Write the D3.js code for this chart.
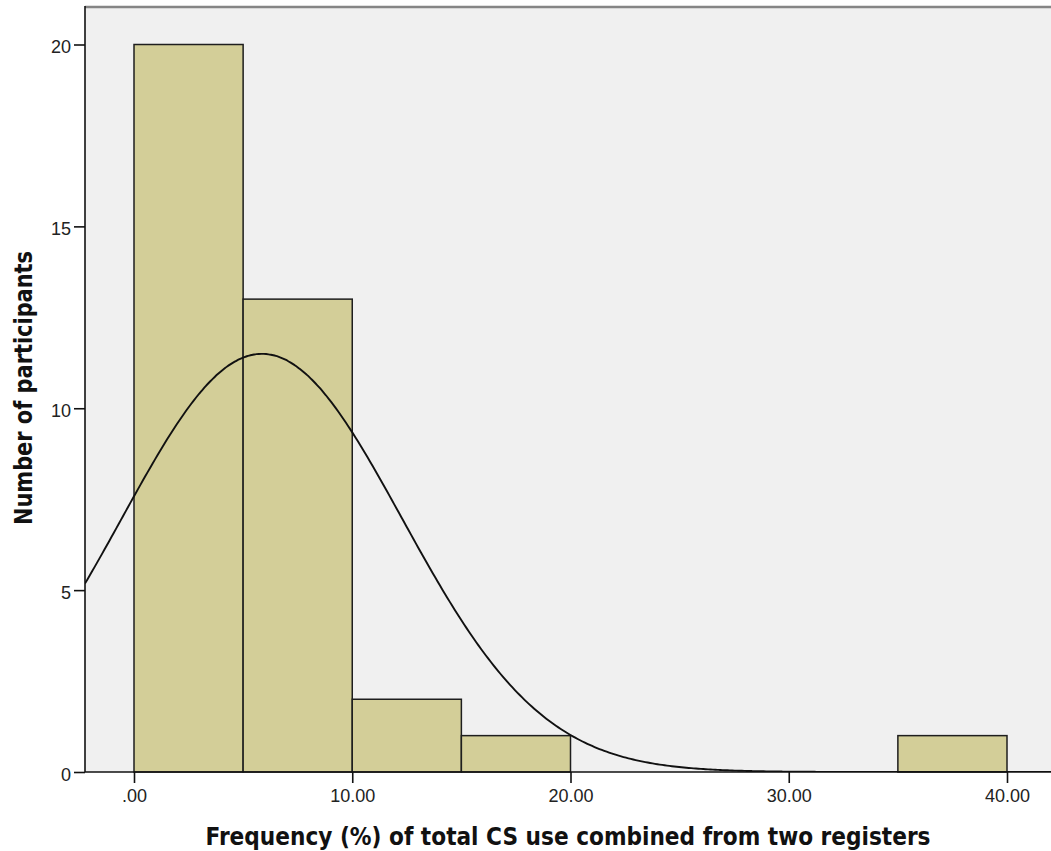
<!DOCTYPE html>
<html>
<head>
<meta charset="utf-8">
<script src="https://cdn.jsdelivr.net/npm/d3@7/dist/d3.min.js"></script>
<style>
  html, body { margin: 0; padding: 0; background: #ffffff; }
  svg { display: block; }
</style>
</head>
<body>
<svg id="chart" width="1051" height="851"></svg>
<script>
// Histogram bins (lower edge, width 5) and participant counts
const binStarts = [0, 5, 10, 15, 20, 25, 30, 35];
const binWidth = 5;
const counts = [20, 13, 2, 1, 0, 0, 0, 1];

// Fitted normal curve parameters
const curveMean = 5.86;
const curveSD = 6.42;
const totalN = 37;

// Axis ticks
const xTicks = [0, 10, 20, 30, 40];
const xTickLabels = [".00", "10.00", "20.00", "30.00", "40.00"];
const yTicks = [0, 5, 10, 15, 20];

const xTitle = "Frequency (%) of total CS use combined from two registers";
const yTitle = "Number of participants";

const svg = d3.select("#chart");
const W = 1051, H = 851;
const plot = { left: 85, right: 1051, top: 7, bottom: 772 };

const x = d3.scaleLinear().domain([0, 40]).range([134, 1007]);
const y = d3.scaleLinear().domain([0, 20]).range([772, 44.5]);

// plot background
svg.append("rect")
  .attr("x", plot.left).attr("y", plot.top)
  .attr("width", plot.right - plot.left).attr("height", plot.bottom - plot.top)
  .attr("fill", "#f0f0f0");

// top frame line
svg.append("line")
  .attr("x1", plot.left).attr("x2", plot.right)
  .attr("y1", plot.top).attr("y2", plot.top)
  .attr("stroke", "#858585").attr("stroke-width", 2.4);

const clip = svg.append("clipPath").attr("id", "plotClip")
  .append("rect")
  .attr("x", plot.left).attr("y", plot.top)
  .attr("width", plot.right - plot.left).attr("height", plot.bottom - plot.top);

// bars
const bins = binStarts.map((s, i) => ({ x0: s, x1: s + binWidth, n: counts[i] }))
  .filter(d => d.n > 0);

svg.append("g").selectAll("rect")
  .data(bins)
  .join("rect")
  .attr("x", d => x(d.x0))
  .attr("y", d => y(d.n))
  .attr("width", d => x(d.x1) - x(d.x0))
  .attr("height", d => y(0) - y(d.n))
  .attr("fill", "#d3ce98")
  .attr("stroke", "#1e1e1e")
  .attr("stroke-width", 1.5);

// normal curve scaled to counts
const scaleFactor = totalN * binWidth / (curveSD * Math.sqrt(2 * Math.PI));
const lo = x.invert(plot.left), hi = x.invert(plot.right);
const curvePts = d3.range(0, 401).map(i => {
  const v = lo + (hi - lo) * i / 400;
  const z = (v - curveMean) / curveSD;
  return [v, scaleFactor * Math.exp(-0.5 * z * z)];
});
svg.append("path")
  .datum(curvePts)
  .attr("clip-path", "url(#plotClip)")
  .attr("fill", "none")
  .attr("stroke", "#111")
  .attr("stroke-width", 1.9)
  .attr("d", d3.line().x(d => x(d[0])).y(d => y(d[1])).curve(d3.curveBasis));

// x axis
const xAxis = d3.axisBottom(x)
  .tickValues(xTicks)
  .tickFormat((d, i) => xTickLabels[i])
  .tickSize(11).tickSizeOuter(0).tickPadding(6);
const gx = svg.append("g").attr("transform", `translate(0,${plot.bottom})`).call(xAxis);
gx.select(".domain").remove();
gx.append("line")
  .attr("x1", plot.left).attr("x2", plot.right)
  .attr("y1", 0).attr("y2", 0)
  .attr("stroke", "#111").attr("stroke-width", 1.5);
gx.selectAll(".tick line").attr("stroke", "#111").attr("stroke-width", 1.6);
gx.selectAll(".tick text")
  .attr("fill", "#222")
  .style("font-family", "'Liberation Sans', Arial, sans-serif")
  .style("font-size", "18px");

// y axis
const yAxis = d3.axisLeft(y)
  .tickValues(yTicks)
  .tickFormat(d3.format("d"))
  .tickSize(11).tickSizeOuter(0).tickPadding(3);
const gy = svg.append("g").attr("transform", `translate(${plot.left},0)`).call(yAxis);
gy.select(".domain").remove();
gy.append("line")
  .attr("x1", 0).attr("x2", 0)
  .attr("y1", plot.top - 1).attr("y2", plot.bottom)
  .attr("stroke", "#111").attr("stroke-width", 1.6);
gy.selectAll(".tick line").attr("stroke", "#111").attr("stroke-width", 1.6);
gy.selectAll(".tick text")
  .attr("fill", "#222")
  .attr("dy", "0.45em")
  .style("font-family", "'Liberation Sans', Arial, sans-serif")
  .style("font-size", "18px");

// axis titles
svg.append("text")
  .attr("x", (plot.left + plot.right) / 2)
  .attr("y", 845)
  .attr("text-anchor", "middle")
  .attr("textLength", 725)
  .attr("lengthAdjust", "spacingAndGlyphs")
  .style("font-family", "'DejaVu Sans', Verdana, sans-serif")
  .style("font-weight", "bold")
  .style("font-size", "24px")
  .attr("fill", "#111")
  .text(xTitle);

svg.append("text")
  .attr("transform", `translate(32,388) rotate(-90)`)
  .attr("text-anchor", "middle")
  .attr("textLength", 274)
  .attr("lengthAdjust", "spacingAndGlyphs")
  .style("font-family", "'DejaVu Sans', Verdana, sans-serif")
  .style("font-weight", "bold")
  .style("font-size", "24px")
  .attr("fill", "#111")
  .text(yTitle);
</script>
</body>
</html>
